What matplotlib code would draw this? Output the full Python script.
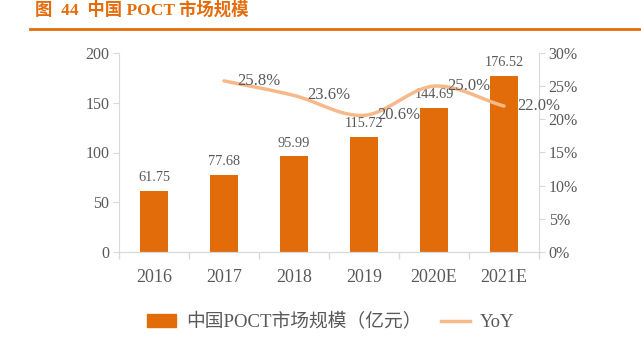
import numpy as np
import matplotlib
matplotlib.use("Agg")
import matplotlib.pyplot as plt
from matplotlib.lines import Line2D
from matplotlib.patches import Patch

years = ["2016", "2017", "2018", "2019", "2020E", "2021E"]
market_size = [61.75, 77.68, 95.99, 115.72, 144.69, 176.52]
yoy_years = ["2017", "2018", "2019", "2020E", "2021E"]
yoy = [25.8, 23.6, 20.6, 25.0, 22.0]

BAR = "#E36C0A"
LINE = "#F7B98A"
GRID = "#D9D9D9"
TXT = "#595959"
SERIF = ["Liberation Serif", "Noto Sans CJK SC"]

plt.rcParams["font.family"] = SERIF


def smooth(xs, ys, n=30):
    # Catmull-Rom, just for drawing the curve between the real points
    xs = np.asarray(xs, float)
    ys = np.asarray(ys, float)
    px = np.concatenate([[2 * xs[0] - xs[1]], xs, [2 * xs[-1] - xs[-2]]])
    py = np.concatenate([[2 * ys[0] - ys[1]], ys, [2 * ys[-1] - ys[-2]]])
    outx, outy = [], []
    for i in range(1, len(px) - 2):
        t = np.linspace(0, 1, n)
        for p, out in ((px, outx), (py, outy)):
            p0, p1, p2, p3 = p[i - 1], p[i], p[i + 1], p[i + 2]
            out.extend(0.5 * (2 * p1 + (-p0 + p2) * t
                              + (2 * p0 - 5 * p1 + 4 * p2 - p3) * t ** 2
                              + (-p0 + 3 * p1 - 3 * p2 + p3) * t ** 3))
    return np.array(outx), np.array(outy)


fig = plt.figure(figsize=(6.41, 3.53), dpi=100)
W, H = 641, 353
ax = fig.add_axes([119 / W, 1 - 252 / H, 420 / W, 199 / H])
ax2 = ax.twinx()

x = np.arange(len(years))
ax.bar(x, market_size, width=0.4, color=BAR, zorder=2)
for xi, v in zip(x, market_size):
    ax.annotate(f"{v:.2f}", (xi, v), xytext=(0, 5), textcoords="offset points",
                ha="center", va="bottom", fontsize=10.3, color=TXT)

ax.set_xlim(-0.5, len(years) - 0.5)
ax.set_ylim(0, 200)
ax.set_yticks([0, 50, 100, 150, 200])
ax.set_xticks(np.arange(-0.5, len(years), 1.0))
ax.set_xticklabels([])
ax.set_xticks(x, minor=True)
ax.set_xticklabels(years, minor=True)
ax.tick_params(axis="x", which="major", length=5, color=GRID, width=1)
ax.tick_params(axis="x", which="minor", length=0, labelsize=13, colors=TXT, pad=12)
ax.tick_params(axis="y", length=4, color=GRID, labelsize=11.5, labelcolor=TXT, pad=3)

yx = [years.index(y) for y in yoy_years]
sx, sy = smooth(yx, yoy)
ax2.plot(sx, sy, color=LINE, lw=2.5, solid_capstyle="round", zorder=3)
for xi, v in zip(yx, yoy):
    ax2.annotate(f"{v:.1f}%", (xi, v), xytext=(9.5, 0), textcoords="offset points",
                 ha="left", va="center", fontsize=12, color=TXT)
ax2.set_ylim(0, 30)
ax2.set_yticks(range(0, 31, 5))
ax2.set_yticklabels([f"{t}%" for t in range(0, 31, 5)])
ax2.tick_params(axis="y", length=4, color=GRID, labelsize=11.5, labelcolor=TXT, pad=3)

for a in (ax, ax2):
    for s in a.spines.values():
        s.set_visible(False)
    a.spines["bottom"].set_visible(True)
    a.spines["bottom"].set_color(GRID)
ax.spines["left"].set_visible(True)
ax.spines["left"].set_color(GRID)
ax2.spines["right"].set_visible(True)
ax2.spines["right"].set_color(GRID)

handles = [Patch(color=BAR), Line2D([], [], color=LINE, lw=2.5)]
fig.legend(handles, ["中国POCT市场规模（亿元）", "YoY"], loc="center",
           bbox_to_anchor=(331 / W, 1 - 322 / H), ncol=2, frameon=False,
           handlelength=1.55, handleheight=0.65, handletextpad=0.55,
           columnspacing=1.0, labelcolor=TXT,
           prop={"family": SERIF, "size": 13.5})

fig.text(35 / W, 1 - 10 / H, "图  44  中国 POCT 市场规模", fontsize=12.5,
         fontweight="bold", color="#E46C0A", va="center", ha="left",
         family=SERIF)
fig.add_artist(Line2D([30 / W, 1], [1 - 29 / H, 1 - 29 / H], color="#E46C0A", lw=2))

fig.savefig("out.png", dpi=100)
